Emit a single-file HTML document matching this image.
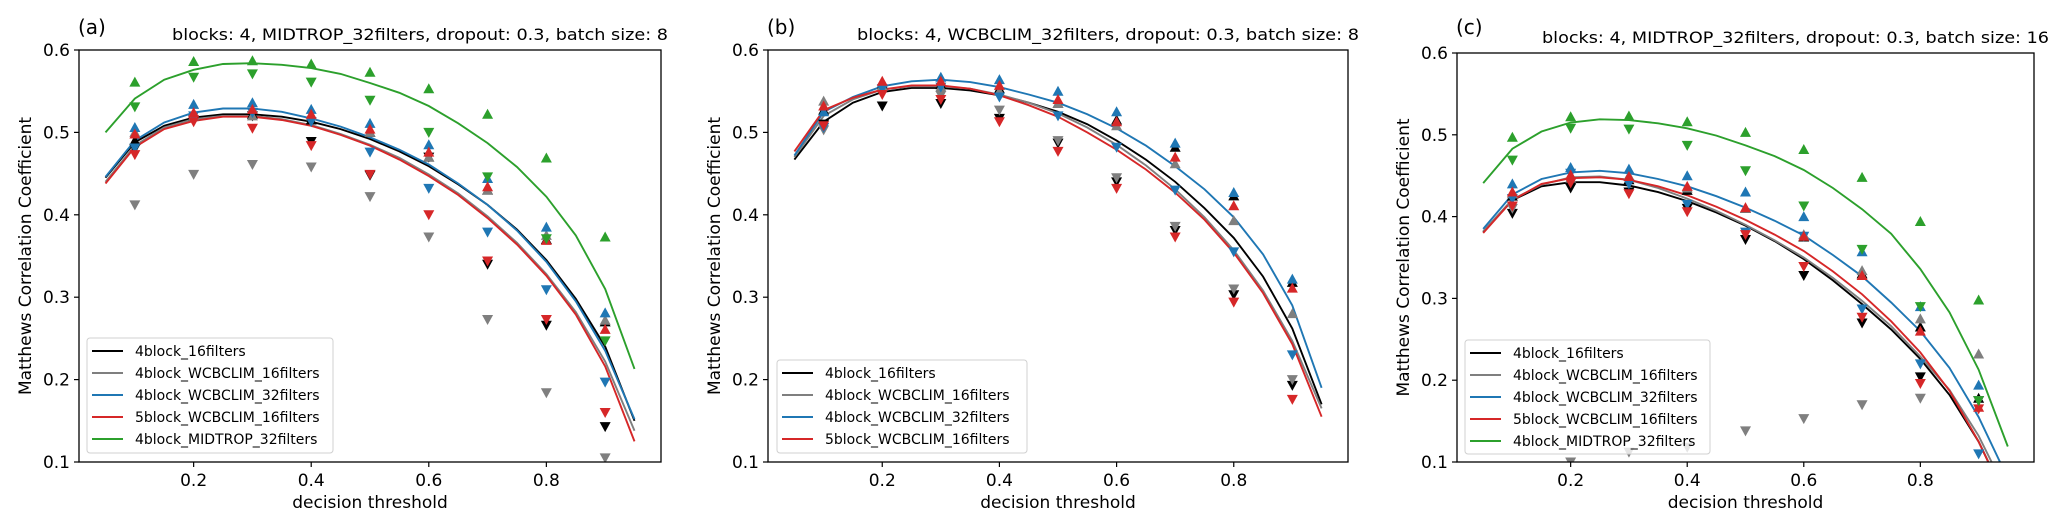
<!DOCTYPE html>
<html><head><meta charset="utf-8">
<style>
html,body{margin:0;padding:0;background:#fff;}
svg{display:block;font-family:"DejaVu Sans","Liberation Sans",sans-serif;}
</style></head>
<body>
<svg id="chart" width="2067" height="527" viewBox="0 0 2067 527" xmlns="http://www.w3.org/2000/svg"></svg>
<script>
const thresholdsLine = [0.05,0.1,0.15,0.2,0.25,0.3,0.35,0.4,0.45,0.5,0.55,0.6,0.65,0.7,0.75,0.8,0.85,0.9,0.95];
const thresholdsMarker = [0.1,0.2,0.3,0.4,0.5,0.6,0.7,0.8,0.9];
const yTicks = [0.1,0.2,0.3,0.4,0.5,0.6];
const xTicks = [0.2,0.4,0.6,0.8];
const seriesNames = ["4block_16filters","4block_WCBCLIM_16filters","4block_WCBCLIM_32filters","5block_WCBCLIM_16filters","4block_MIDTROP_32filters"];

// Panel (a)
const aBlackLine = [0.445,0.488,0.508,0.518,0.522,0.522,0.519,0.513,0.504,0.492,0.477,0.459,0.437,0.412,0.382,0.345,0.298,0.24,0.15];
const aGrayLine  = [0.440,0.484,0.506,0.516,0.520,0.520,0.516,0.509,0.498,0.485,0.469,0.449,0.426,0.398,0.366,0.328,0.282,0.222,0.138];
const aBlueLine  = [0.446,0.49,0.512,0.524,0.529,0.529,0.525,0.517,0.507,0.494,0.479,0.461,0.438,0.412,0.381,0.343,0.295,0.235,0.152];
const aRedLine   = [0.438,0.482,0.504,0.514,0.519,0.519,0.515,0.508,0.497,0.484,0.467,0.447,0.424,0.396,0.364,0.326,0.279,0.216,0.125];
const aGreenLine = [0.5,0.541,0.564,0.576,0.583,0.584,0.582,0.578,0.571,0.56,0.548,0.532,0.511,0.487,0.458,0.422,0.375,0.31,0.213];
const aBlackUp   = [0.49,0.52,0.522,0.515,0.5,0.47,0.43,0.37,0.27];
const aBlackDown = [0.48,0.515,0.52,0.489,0.448,0.47,0.34,0.266,0.143];
const aGrayUp    = [0.5,0.52,0.52,0.52,0.5,0.47,0.43,0.375,0.272];
const aGrayDown  = [0.412,0.449,0.461,0.458,0.422,0.373,0.273,0.184,0.105];
const aBlueUp    = [0.506,0.534,0.536,0.528,0.511,0.485,0.444,0.385,0.281];
const aBlueDown  = [0.481,0.52,0.524,0.513,0.476,0.432,0.379,0.309,0.197];
const aRedUp     = [0.498,0.524,0.528,0.522,0.504,0.476,0.434,0.369,0.261];
const aRedDown   = [0.473,0.513,0.505,0.484,0.449,0.4,0.344,0.273,0.16];
const aGreenUp   = [0.561,0.586,0.587,0.583,0.573,0.553,0.522,0.469,0.373];
const aGreenDown = [0.531,0.567,0.571,0.561,0.539,0.5,0.446,0.371,0.247];

// Panel (b)
const bBlackLine = [0.467,0.513,0.536,0.549,0.554,0.554,0.551,0.545,0.536,0.525,0.51,0.49,0.467,0.44,0.408,0.372,0.325,0.262,0.17];
const bGrayLine  = [0.47,0.52,0.54,0.552,0.556,0.556,0.553,0.546,0.536,0.523,0.506,0.485,0.46,0.431,0.397,0.357,0.308,0.247,0.165];
const bBlueLine  = [0.472,0.525,0.543,0.556,0.562,0.564,0.561,0.555,0.546,0.536,0.522,0.505,0.484,0.459,0.431,0.397,0.352,0.29,0.19];
const bRedLine   = [0.477,0.527,0.542,0.552,0.557,0.557,0.553,0.545,0.533,0.519,0.5,0.479,0.455,0.427,0.394,0.354,0.305,0.243,0.155];
const bBlackUp   = [0.527,0.558,0.558,0.553,0.535,0.515,0.482,0.423,0.318];
const bBlackDown = [0.51,0.532,0.535,0.517,0.487,0.44,0.381,0.303,0.193];
const bGrayUp    = [0.538,0.556,0.555,0.55,0.535,0.508,0.462,0.393,0.28];
const bGrayDown  = [0.503,0.548,0.545,0.527,0.49,0.445,0.386,0.31,0.2];
const bBlueUp    = [0.525,0.56,0.567,0.564,0.55,0.525,0.487,0.427,0.322];
const bBlueDown  = [0.506,0.553,0.555,0.543,0.52,0.482,0.43,0.355,0.23];
const bRedUp     = [0.532,0.562,0.562,0.557,0.54,0.513,0.47,0.411,0.311];
const bRedDown   = [0.508,0.546,0.54,0.513,0.477,0.432,0.373,0.294,0.176];

// Panel (c)
const cBlackLine = [0.381,0.42,0.437,0.442,0.442,0.438,0.43,0.419,0.405,0.389,0.37,0.348,0.322,0.293,0.262,0.226,0.182,0.125,0.05];
const cGrayLine  = [0.382,0.421,0.439,0.448,0.449,0.445,0.435,0.422,0.407,0.39,0.371,0.35,0.325,0.297,0.266,0.229,0.188,0.132,0.06];
const cBlueLine  = [0.385,0.427,0.446,0.454,0.456,0.453,0.446,0.437,0.425,0.411,0.395,0.377,0.353,0.327,0.295,0.26,0.215,0.155,0.08];
const cRedLine   = [0.38,0.42,0.44,0.447,0.448,0.445,0.437,0.426,0.412,0.396,0.378,0.358,0.333,0.305,0.272,0.234,0.187,0.125,0.05];
const cGreenLine = [0.441,0.483,0.504,0.515,0.519,0.518,0.514,0.508,0.499,0.487,0.474,0.457,0.435,0.409,0.379,0.336,0.283,0.213,0.119];
const cBlackUp   = [0.425,0.445,0.445,0.432,0.41,0.375,0.33,0.265,0.178];
const cBlackDown = [0.404,0.435,0.43,0.41,0.372,0.328,0.27,0.204,0.175];
const cGrayUp    = [0.428,0.447,0.45,0.435,0.41,0.378,0.334,0.275,0.232];
const cGrayDown  = [0.41,0.1,0.112,0.118,0.138,0.153,0.17,0.178,0.175];
const cBlueUp    = [0.44,0.46,0.458,0.45,0.43,0.4,0.357,0.29,0.194];
const cBlueDown  = [0.422,0.453,0.44,0.415,0.381,0.376,0.287,0.22,0.11];
const cRedUp     = [0.43,0.451,0.449,0.437,0.411,0.376,0.328,0.26,0.167];
const cRedDown   = [0.413,0.441,0.428,0.406,0.378,0.339,0.277,0.196,0.165];
const cGreenUp   = [0.497,0.522,0.523,0.516,0.503,0.482,0.448,0.394,0.298];
const cGreenDown = [0.469,0.508,0.507,0.487,0.456,0.413,0.36,0.29,0.175];

const colors = ["#000000","#7f7f7f","#1f77b4","#d62728","#2ca02c"];
const NS = "http://www.w3.org/2000/svg";
const svg = document.getElementById("chart");

function mk(tag, attrs, parent){
  const e = document.createElementNS(NS, tag);
  for (const k in attrs) e.setAttribute(k, attrs[k]);
  (parent||svg).appendChild(e);
  return e;
}

const panels = [
  {id:"a", L:79, R:661, T:50, B:462, title:"blocks: 4, MIDTROP_32filters, dropout: 0.3, batch size: 8", titleStart:172, titleLen:496, titleY:40,
   lines:[aBlackLine,aGrayLine,aBlueLine,aRedLine,aGreenLine],
   ups:[aBlackUp,aGrayUp,aBlueUp,aRedUp,aGreenUp], downs:[aBlackDown,aGrayDown,aBlueDown,aRedDown,aGreenDown],
   leg:{x:87,y:338,w:246,h:115}},
  {id:"b", L:768, R:1348, T:50, B:462, title:"blocks: 4, WCBCLIM_32filters, dropout: 0.3, batch size: 8", titleStart:857, titleLen:502, titleY:40,
   lines:[bBlackLine,bGrayLine,bBlueLine,bRedLine],
   ups:[bBlackUp,bGrayUp,bBlueUp,bRedUp], downs:[bBlackDown,bGrayDown,bBlueDown,bRedDown],
   leg:{x:777,y:360,w:250,h:93}},
  {id:"c", L:1457, R:2034, T:53, B:462, title:"blocks: 4, MIDTROP_32filters, dropout: 0.3, batch size: 16", titleStart:1542, titleLen:507, titleY:43,
   lines:[cBlackLine,cGrayLine,cBlueLine,cRedLine,cGreenLine],
   ups:[cBlackUp,cGrayUp,cBlueUp,cRedUp,cGreenUp], downs:[cBlackDown,cGrayDown,cBlueDown,cRedDown,cGreenDown],
   leg:{x:1465,y:340,w:245,h:114}}
];

panels.forEach(p => {
  const g = mk("g", {});
  
  
  const xs = v => p.L + (v - 0.005) / 0.99 * (p.R - p.L);
  const ys = v => p.B - (v - 0.1) / 0.5 * (p.B - p.T);
  const cid = "clip" + p.id;
  const cp = mk("clipPath", {id:cid}, g);
  mk("rect", {x:p.L, y:p.T, width:p.R-p.L, height:p.B-p.T}, cp);
  const plot = mk("g", {"clip-path":"url(#"+cid+")"}, g);
  
  

  p.lines.forEach((arr, si) => {
    const pts = arr.map((v,i) => xs(thresholdsLine[i]).toFixed(1)+","+ys(v).toFixed(1)).join(" ");
    const pl = mk("polyline", {points:pts, fill:"none", stroke:colors[si], "stroke-width":1.9}, plot);
    
    
  });
  p.lines.forEach((arr, si) => {
    p.ups[si].forEach((v,i) => {
      const cx = xs(thresholdsMarker[i]), cy = ys(v);
      const t = mk("polygon", {points:`${cx-5.5},${cy+4.5} ${cx+5.5},${cy+4.5} ${cx},${cy-5.5}`, fill:colors[si]}, plot);
      
      
    });
    p.downs[si].forEach((v,i) => {
      const cx = xs(thresholdsMarker[i]), cy = ys(v);
      const t = mk("polygon", {points:`${cx-5.5},${cy-4.5} ${cx+5.5},${cy-4.5} ${cx},${cy+5.5}`, fill:colors[si]}, plot);
      
      
    });
  });

  const frame = mk("rect", {x:p.L, y:p.T, width:p.R-p.L, height:p.B-p.T, fill:"none", stroke:"#000", "stroke-width":1.3}, g);
  
  

  yTicks.forEach(v => {
    const y = ys(v);
    mk("line", {x1:p.L-5, x2:p.L, y1:y, y2:y, stroke:"#000", "stroke-width":1.2}, g);
    const t = mk("text", {x:p.L-9, y:y+6, "text-anchor":"end", "font-size":17}, g);
    t.textContent = v.toFixed(1);
    
    
  });
  xTicks.forEach(v => {
    const x = xs(v);
    mk("line", {x1:x, x2:x, y1:p.B, y2:p.B+5, stroke:"#000", "stroke-width":1.2}, g);
    const t = mk("text", {x:x, y:p.B+24, "text-anchor":"middle", "font-size":17}, g);
    t.textContent = v.toFixed(1);
    
    
  });
  const xl = mk("text", {x:(p.L+p.R)/2, y:p.B+46, "text-anchor":"middle", "font-size":17}, g);
  xl.textContent = "decision threshold";
  
  
  const ym = (p.T+p.B)/2;
  const yl = mk("text", {x:p.L-48, y:ym, "text-anchor":"middle", "font-size":17, transform:`rotate(-90 ${p.L-48} ${ym})`}, g);
  yl.textContent = "Matthews Correlation Coefficient";
  
  
  const tt = mk("text", {x:p.titleStart, y:p.titleY, "font-size":16, textLength:p.titleLen, lengthAdjust:"spacingAndGlyphs"}, g);
  tt.textContent = p.title;
  
  
  const lab = mk("text", {x:p.L-1, y:34, "font-size":20}, g);
  lab.textContent = "(" + p.id + ")";
  
  

  const lg = mk("g", {}, g);
  
  
  mk("rect", {x:p.leg.x, y:p.leg.y, width:p.leg.w, height:p.leg.h, rx:3, fill:"#fff", "fill-opacity":0.8, stroke:"#d0d0d0"}, lg);
  p.lines.forEach((arr, si) => {
    const ey = p.leg.y + 13 + si*22;
    const e = mk("g", {}, lg);
    
    
    mk("line", {x1:p.leg.x+5, x2:p.leg.x+36, y1:ey, y2:ey, stroke:colors[si], "stroke-width":2}, e);
    const t = mk("text", {x:p.leg.x+48, y:ey+5, "font-size":14}, e);
    t.textContent = seriesNames[si];
  });
});
</script>
</body></html>
